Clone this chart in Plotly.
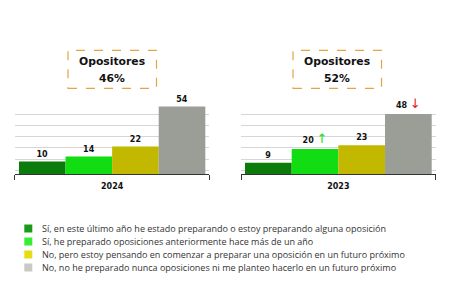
import plotly.graph_objects as go

# ---- data ----
categories = [
    "Sí, en este último año he estado preparando o estoy preparando alguna oposición",
    "Sí, he preparado oposiciones anteriormente hace más de un año",
    "No, pero estoy pensando en comenzar a preparar una oposición en un futuro próximo",
    "No, no he preparado nunca oposiciones ni me planteo hacerlo en un futuro próximo",
]
years = ["2024", "2023"]
values_2024 = [10, 14, 22, 54]
values_2023 = [9, 20, 23, 48]
trend_2023 = ["", "up", "", "down"]
opositores_pct = ["46%", "52%"]
box_title = "Opositores"

bar_colors = ["#0b7c0b", "#12dc12", "#c2b800", "#9b9d97"]
legend_colors = ["#1a9a1a", "#36ee36", "#e6dc12", "#c9c9c6"]
arrow_colors = {"up": "#22dd22", "down": "#e02020"}
arrow_chars = {"up": "↑", "down": "↓"}

FONT = "Open Sans"
W, H = 450, 300

fig = go.Figure()

def label(v, t):
    if not t:
        return f"{v}"
    return (f"{v} <span style='color:{arrow_colors[t]};font-size:13px;"
            f"font-weight:normal'>{arrow_chars[t]}</span>")

series = [(years[0], values_2024, [""] * 4, "x", "y"),
          (years[1], values_2023, trend_2023, "x2", "y2")]

for year, vals, trends, xa, ya in series:
    for i, cat in enumerate(categories):
        fig.add_trace(go.Bar(
            x=[year], y=[vals[i]], name=cat,
            marker=dict(color=bar_colors[i], line=dict(width=0)),
            text=[label(vals[i], trends[i])],
            textposition="outside",
            textfont=dict(family="DejaVu Sans", size=8, color="#111", weight="bold"),
            cliponaxis=False, showlegend=False,
            xaxis=xa, yaxis=ya, offsetgroup=str(i),
        ))

yaxis_common = dict(
    range=[0, 57.6], tick0=3, dtick=9, showgrid=True,
    gridcolor="#d6d6d6", gridwidth=1, showticklabels=False,
    zeroline=False, showline=False, fixedrange=True,
)
xaxis_common = dict(
    type="category", showline=True, linecolor="#333", linewidth=1,
    ticks="outside", tickson="boundaries", ticklen=5, tickcolor="#333",
    tickfont=dict(family="DejaVu Sans", size=8, color="#111", weight="bold"),
    ticklabelstandoff=4,
    showgrid=False, fixedrange=True,
)

fig.update_layout(
    width=W, height=H,
    margin=dict(l=0, r=0, t=0, b=0),
    paper_bgcolor="white", plot_bgcolor="white",
    barmode="group", bargap=0.041, bargroupgap=0,
    xaxis=dict(domain=[0.0333, 0.4651], **xaxis_common),
    xaxis2=dict(domain=[0.5356, 0.9682], **xaxis_common),
    yaxis=dict(domain=[0.42, 0.66], anchor="x", **yaxis_common),
    yaxis2=dict(domain=[0.42, 0.66], anchor="x2", **yaxis_common),
    font=dict(family=FONT, color="#222"),
    showlegend=False,
)

# title boxes
box_x = [(68, 156.5), (293, 381.5)]
for (x0, x1), pct in zip(box_x, opositores_pct):
    fig.add_shape(type="rect", xref="paper", yref="paper",
                  x0=x0 / W, x1=x1 / W, y0=1 - 88.3 / H, y1=1 - 50.3 / H,
                  line=dict(color="#e3a544", width=1.2, dash="dash"),
                  layer="below")
    cx = (x0 + x1) / 2 / W
    for txt, yc in ((box_title, 61.7), (pct, 78.5)):
        fig.add_annotation(xref="paper", yref="paper", x=cx, y=1 - yc / H,
                           xanchor="center", yanchor="middle",
                           text=f"<b>{txt}</b>", showarrow=False,
                           font=dict(family="DejaVu Sans", size=10.8, color="#111"))

# legend (drawn manually to match the compact spacing)
legend_rows = [228.5, 241.5, 254.5, 267.5]
for cat, col, yc in zip(categories, legend_colors, legend_rows):
    fig.add_shape(type="rect", xref="paper", yref="paper",
                  x0=24.3 / W, x1=32.3 / W, y0=1 - (yc + 4) / H, y1=1 - (yc - 4) / H,
                  line=dict(width=0), fillcolor=col)
    fig.add_annotation(xref="paper", yref="paper", x=39.5 / W, y=1 - yc / H,
                       xanchor="left", yanchor="middle", text=cat, showarrow=False,
                       font=dict(family=FONT, size=9, color="#333"))

fig.write_html("out.html")
